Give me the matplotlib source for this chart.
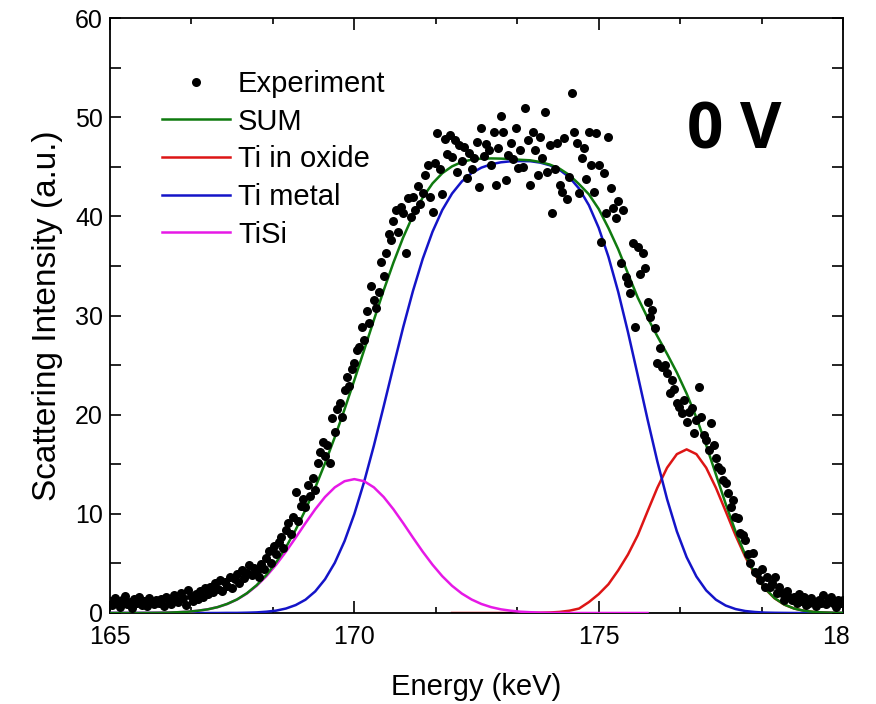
import numpy as np
import matplotlib
matplotlib.use("Agg")
import matplotlib.pyplot as plt
from matplotlib.lines import Line2D
from matplotlib.patches import Rectangle
from matplotlib.ticker import MultipleLocator, AutoMinorLocator

plt.rcParams['font.family'] = ['Liberation Sans', 'DejaVu Sans']

# measured spectrum, one point every 0.05 keV from 165 to 180 keV
energy = np.round(165 + 0.05 * np.arange(301), 2)
counts = (
    [1.2, 0.8, 1.5, 1.0, 0.6, 1.3, 1.7, 0.9, 1.1, 0.5, 1.4, 1.0, 1.6, 0.8, 1.2, 0.7, 1.5, 1.1, 0.9, 1.3]
    + [1.0, 1.4, 0.7, 1.6, 1.2, 0.9, 1.8, 1.3, 1.1, 2.0, 1.5, 0.8, 2.3, 1.7, 1.2, 1.9, 1.4, 2.2, 1.6, 2.5]
    + [1.9, 2.6, 2.1, 3.0, 2.4, 3.3, 2.2, 3.1, 2.7, 3.6, 2.5, 3.4, 3.9, 3.0, 4.3, 3.5, 4.0, 4.8, 3.8, 4.5]
    + [4.2, 3.6, 4.9, 4.4, 5.5, 6.3, 5.0, 6.8, 6.0, 7.2, 7.7, 6.6, 8.4, 9.1, 8.0, 9.7, 12.2, 9.3, 10.8, 11.5]
    + [10.7, 12.9, 11.8, 13.6, 12.4, 15.1, 16.2, 17.2, 15.8, 16.9, 15.1, 19.7, 18.3, 20.6, 21.2, 19.8, 22.5, 23.8, 22.9, 24.6]
    + [25.2, 26.5, 26.8, 28.8, 27.5, 30.5, 29.2, 33.0, 31.6, 30.8, 32.4, 35.4, 34.0, 36.3, 38.2, 37.6, 39.5, 40.6, 38.4, 40.9]
    + [40.3, 36.3, 41.8, 39.9, 42.0, 40.6, 43.1, 41.2, 42.4, 44.2, 45.2, 42.0, 40.4, 45.4, 48.4, 44.8, 42.3, 47.8, 46.3, 48.2]
    + [46.0, 47.7, 44.5, 47.2, 45.6, 47.0, 43.9, 46.4, 44.8, 45.9, 47.5, 43.0, 48.9, 46.1, 47.3, 46.7, 45.2, 48.5, 43.2, 46.9]
    + [50.1, 48.5, 43.7, 46.2, 47.4, 45.8, 48.9, 44.9, 46.7, 45.0, 50.9, 47.7, 43.2, 48.5, 46.7, 44.2, 48.0, 45.9, 50.5, 44.5]
    + [47.2, 40.3, 44.8, 47.4, 43.2, 42.5, 47.9, 41.7, 44.0, 52.4, 48.5, 47.4, 42.4, 45.9, 46.9, 43.8, 48.5, 45.2, 42.5, 48.4]
    + [45.2, 37.4, 44.4, 40.3, 48.0, 42.9, 40.8, 39.8, 41.5, 35.3, 40.6, 33.9, 33.3, 32.3, 37.3, 28.8, 36.9, 34.2, 36.3, 34.8]
    + [31.4, 29.8, 30.6, 28.7, 25.2, 26.7, 24.8, 25.0, 24.2, 22.2, 23.5, 22.6, 21.2, 20.8, 20.2, 21.5, 19.3, 20.3, 20.7, 18.2]
    + [19.5, 22.8, 19.8, 17.9, 17.4, 16.4, 19.2, 16.9, 15.6, 14.7, 14.4, 13.4, 13.1, 12.1, 10.7, 11.4, 9.7, 9.6, 8.1, 7.9]
    + [7.4, 6.0, 5.0, 6.1, 4.1, 4.0, 3.3, 4.4, 2.6, 3.6, 2.6, 3.0, 3.6, 2.0, 2.6, 2.0, 1.3, 2.2, 1.6, 1.3]
    + [1.6, 1.0, 1.9, 1.2, 1.6, 0.8, 1.0, 1.5, 1.1, 0.7, 1.3, 1.0, 1.8, 0.9, 1.2, 1.6, 1.0, 0.6, 1.3, 1.0]
    + [1.3]
)

# fitted components on a 0.2 keV grid (165.0 ... 180.0)
fit_energy = np.round(165 + 0.2 * np.arange(76), 1)
tisi = (
    [0.0, 0.0, 0.0, 0.0, 0.01, 0.02, 0.04, 0.08, 0.13, 0.23,
     0.37, 0.59, 0.91, 1.36, 1.96, 2.74, 3.71, 4.87, 6.18, 7.60,
     9.06, 10.46, 11.70, 12.67, 13.29, 13.50, 13.29, 12.67, 11.70, 10.46,
     9.06, 7.60, 6.18, 4.87, 3.71, 2.74, 1.96, 1.36, 0.91, 0.59,
     0.37, 0.23, 0.13, 0.08, 0.04, 0.02, 0.01]
    + [0.0] * 29
)
ti_oxide = (
    [0.0] * 35
    + [0.0, 0.0, 0.0, 0.0, 0.0, 0.0, 0.0, 0.0, 0.01, 0.02,
       0.05, 0.11, 0.23, 0.45, 1.1, 1.9, 2.9, 4.3, 5.9, 7.84,
       10.25, 12.62, 14.65, 16.02, 16.5, 16.02, 14.65, 12.62, 10.25, 7.84,
       5.66, 3.84, 2.46, 1.48, 0.84, 0.45, 0.23, 0.11, 0.05, 0.02, 0.01]
)
ti_metal = (
    [0.0] * 12
    + [0.01, 0.01, 0.03, 0.06, 0.13, 0.24, 0.45, 0.80, 1.34, 2.18,
       3.40, 5.06, 7.25, 9.98, 13.22, 16.88, 20.83, 24.87, 28.82, 32.48,
       35.72, 38.45, 40.64, 42.30, 43.52, 44.36, 44.91, 45.25, 45.45, 45.55,
       45.57, 45.56, 45.42, 45.15, 44.69, 43.94, 42.79, 41.12, 38.85, 35.92,
       32.38, 28.32, 23.96, 19.53, 15.30, 11.48, 8.23, 5.63, 3.68, 2.28,
       1.34, 0.75, 0.40, 0.20, 0.10, 0.04, 0.02, 0.01]
    + [0.0] * 6
)

tisi = np.array(tisi)
ti_oxide = np.array(ti_oxide)
ti_metal = np.array(ti_metal)
fit_sum = tisi + ti_oxide + ti_metal

c_sum = '#0f7a0f'
c_oxide = '#dd1515'
c_metal = '#1414c8'
c_tisi = '#e619e6'

fig = plt.figure(figsize=(8.76, 7.04), dpi=100)
ax = fig.add_axes([110 / 876, 1 - 613 / 704, 733 / 876, 595 / 704])

show_tisi = fit_energy <= 176.0
show_oxide = fit_energy >= 172.0
ax.plot(fit_energy[show_oxide], ti_oxide[show_oxide], color=c_oxide, lw=1.8, zorder=2)
ax.plot(fit_energy, ti_metal, color=c_metal, lw=1.8, zorder=3)
ax.plot(fit_energy[show_tisi], tisi[show_tisi], color=c_tisi, lw=1.8, zorder=4)
ax.plot(fit_energy, fit_sum, color=c_sum, lw=1.8, zorder=5)
ax.plot(energy, counts, 'o', color='black', ms=6.5, mec='none', zorder=6)

ax.set_xlim(165, 180)
ax.set_ylim(0, 60)
ax.xaxis.set_major_locator(MultipleLocator(5))
ax.xaxis.set_minor_locator(AutoMinorLocator(3))
ax.yaxis.set_major_locator(MultipleLocator(10))
ax.yaxis.set_minor_locator(MultipleLocator(5))
ax.tick_params(which='both', direction='in', top=True, right=True, width=1.2, labelsize=18)
ax.tick_params(axis='x', which='major', length=8.5, pad=9)
ax.tick_params(axis='x', which='minor', length=4.5)
ax.tick_params(axis='y', which='both', length=8, pad=5)
for sp in ax.spines.values():
    sp.set_linewidth(1.3)

ax.set_xlabel('Energy (keV)', fontsize=21, labelpad=17)
ax.set_ylabel('Scattering Intensity (a.u.)', fontsize=24, labelpad=9)

handles = [
    Line2D([], [], ls='none', marker='o', ms=6.5, color='black', mec='none'),
    Line2D([], [], color=c_sum, lw=1.8),
    Line2D([], [], color=c_oxide, lw=1.8),
    Line2D([], [], color=c_metal, lw=1.8),
    Line2D([], [], color=c_tisi, lw=1.8),
]
labels = ['Experiment', 'SUM', 'Ti in oxide', 'Ti metal', 'TiSi']
ax.legend(handles, labels, loc='upper left', bbox_to_anchor=(0.071, 0.9125),
          frameon=False, fontsize=21, handlelength=2.33, handletextpad=0.27,
          labelspacing=0.33, borderaxespad=0, borderpad=0, numpoints=1)

ax.text(0.787, 0.7815, '0 V', transform=ax.transAxes, ha='left', va='baseline',
        fontsize=46, fontweight='bold', family=['Open Sans', 'DejaVu Sans'])

# blank strip at the right edge, the last tick label runs into it
fig.patches.append(Rectangle((849 / 876, 0), 1, 1, transform=fig.transFigure,
                             color='white', zorder=10))

fig.savefig('out.png', dpi=100)
